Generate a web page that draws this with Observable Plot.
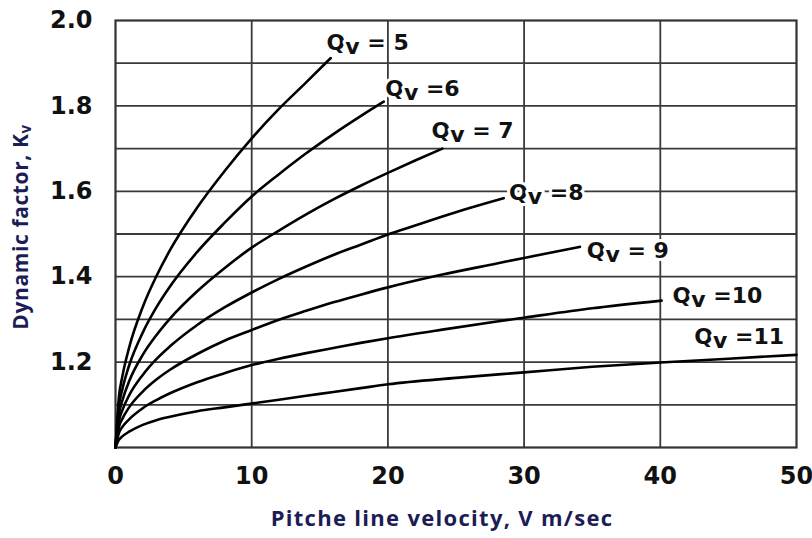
<!DOCTYPE html>
<html>
<head>
<meta charset="utf-8">
<script src="https://cdn.jsdelivr.net/npm/d3@7"></script>
<script src="https://cdn.jsdelivr.net/npm/@observablehq/plot@0.6"></script>
<style>
  html, body { margin: 0; padding: 0; background: #fff; }
  #chart { width: 812px; height: 538px; }
</style>
</head>
<body>
<div id="chart"></div>
<script>
// Transmission accuracy levels (Qv) and the dynamic factor Kv,
// as [pitch line velocity V (m/s), Kv] pairs.
const qualityLevels = [5, 6, 7, 8, 9, 10, 11];

const curveQv5 = [[0, 1], [0.25, 1.118], [0.5, 1.166], [1, 1.234], [2, 1.329], [3, 1.401], [4, 1.462],
  [6, 1.562], [8, 1.647], [10, 1.724], [12, 1.793], [14, 1.855], [15.8, 1.912]];
const curveQv6 = [[0, 1], [0.25, 1.097], [0.5, 1.136], [1, 1.192], [2, 1.269], [3, 1.328], [4, 1.377],
  [6, 1.458], [8, 1.526], [10, 1.588], [12, 1.640], [14, 1.689], [16, 1.734], [18, 1.776], [19.7, 1.81]];
const curveQv7 = [[0, 1], [0.25, 1.078], [0.5, 1.11], [1, 1.155], [2, 1.217], [3, 1.263], [4, 1.302],
  [6, 1.366], [8, 1.42], [10, 1.468], [12, 1.508], [14, 1.546], [16, 1.581], [18, 1.613], [20, 1.643],
  [22, 1.672], [24, 1.70]];
const curveQv8 = [[0, 1], [0.25, 1.062], [0.5, 1.087], [1, 1.122], [2, 1.17], [3, 1.207], [4, 1.237],
  [6, 1.287], [8, 1.328], [10, 1.363], [12, 1.395], [14, 1.424], [16, 1.451], [18, 1.475], [20, 1.499],
  [22, 1.52], [24, 1.541], [26, 1.561], [28.5, 1.584]];
const curveQv9 = [[0, 1], [0.25, 1.048], [0.5, 1.067], [1, 1.094], [2, 1.131], [3, 1.159], [4, 1.182],
  [6, 1.219], [8, 1.25], [10, 1.275], [12, 1.299], [14, 1.32], [16, 1.34], [18, 1.358], [20, 1.375],
  [24, 1.405], [28, 1.431], [30, 1.444], [34.1, 1.47]];
const curveQv10 = [[0, 1], [0.25, 1.034], [0.5, 1.048], [1, 1.066], [2, 1.092], [3, 1.111], [4, 1.127],
  [6, 1.153], [8, 1.174], [10, 1.193], [12, 1.208], [14, 1.221], [16, 1.233], [18, 1.245], [20, 1.256],
  [24, 1.276], [28, 1.295], [30, 1.304], [35, 1.326], [40.1, 1.344]];
const curveQv11 = [[0, 1], [0.25, 1.018], [0.5, 1.026], [1, 1.037], [2, 1.053], [3, 1.064], [4, 1.072],
  [6, 1.085], [8, 1.094], [10, 1.103], [12, 1.112], [14, 1.121], [16, 1.13], [18, 1.139], [20, 1.148],
  [25, 1.163], [30, 1.176], [35, 1.189], [40, 1.199], [45, 1.208], [50, 1.217]];

// Curve labels and the (V, Kv) point where each label begins
const labelTexts = ["Qv = 5", "Qv =6", "Qv = 7", "Qv =8", "Qv = 9", "Qv =10", "Qv =11"];
const labelV = [15.5, 19.8, 23.2, 28.9, 34.6, 40.9, 42.5];
const labelKv = [1.948, 1.839, 1.741, 1.595, 1.461, 1.356, 1.26];

// Axis ticks and grid
const xTicks = [0, 10, 20, 30, 40, 50];
const xGrid = [10, 20, 30, 40];
const yTicks = [1.2, 1.4, 1.6, 1.8, 2.0];
const yGrid = [1.1, 1.2, 1.3, 1.4, 1.5, 1.6, 1.7, 1.8, 1.9];

const xTitle = "Pitche line velocity, V m/sec";
const yTitle = "Dynamic factor, Kv";

const curves = [curveQv5, curveQv6, curveQv7, curveQv8, curveQv9, curveQv10, curveQv11];
const rows = curves.flatMap((pts, i) => pts.map(([v, kv]) => ({qv: qualityLevels[i], v, kv})));
const labels = labelTexts.map((text, i) => ({text, v: labelV[i], kv: labelKv[i]}));

const tickFont = {fontSize: 24, fontWeight: "bold", fill: "#111"};
const titleFont = {fontFamily: "'Open Sans', sans-serif", fontWeight: "bold", fill: "#1c1c56"};

const chart = Plot.plot({
  width: 812,
  height: 538,
  marginLeft: 115,
  marginRight: 16,
  marginTop: 20,
  marginBottom: 91,
  style: {fontFamily: "'DejaVu Sans', sans-serif", background: "#fff"},
  x: {domain: [0, 50]},
  y: {domain: [1, 2]},
  marks: [
    Plot.gridX(xGrid, {stroke: "#3a3a3a", strokeOpacity: 1, strokeWidth: 1.8}),
    Plot.gridY(yGrid, {stroke: "#3a3a3a", strokeOpacity: 1, strokeWidth: 1.8}),
    Plot.frame({stroke: "#333", strokeWidth: 2.2}),
    Plot.axisX(xTicks, {tickSize: 0, tickPadding: 19, label: null, ...tickFont}),
    Plot.axisY(yTicks, {tickSize: 0, tickPadding: 23, label: null, tickFormat: d3.format(".1f"), ...tickFont}),
    Plot.line(rows, {x: "v", y: "kv", z: "qv", curve: "monotone-x", stroke: "#000", strokeWidth: 2.6}),
    Plot.text(labels, {
      x: "v", y: "kv", text: "text", textAnchor: "start",
      fontSize: 22, fontWeight: "bold", fill: "#111",
      stroke: "#fff", strokeWidth: 6, paintOrder: "stroke"
    }),
    Plot.text([xTitle], {
      frameAnchor: "bottom", dx: -14, dy: 78, fontSize: 22, ...titleFont
    }),
    Plot.text([yTitle], {
      frameAnchor: "left", textAnchor: "middle", dx: -94, dy: -7, rotate: -90,
      fontSize: 21, ...titleFont
    })
  ]
});

// Set the "v" of Qv and Kv as a subscript
d3.select(chart).selectAll("text").each(function () {
  const s = this.textContent;
  if (!/(Qv|Kv)/.test(s) || this.childElementCount) return;
  const isLabel = s.startsWith("Qv");
  const i = isLabel ? 1 : s.lastIndexOf("v");
  const sel = d3.select(this);
  sel.text(null);
  sel.append("tspan").text(s.slice(0, i));
  sel.append("tspan").attr("dy", isLabel ? 4 : 3).attr("font-size", isLabel ? "1em" : "0.72em").text("v");
  const rest = s.slice(i + 1);
  if (rest) sel.append("tspan").attr("dy", isLabel ? -4 : -3).text(rest);
});

// Axis titles are set slightly tracked out
d3.select(chart).selectAll("text")
  .filter(function () { return this.textContent === xTitle; })
  .attr("letter-spacing", "1.3px");
d3.select(chart).selectAll("text")
  .filter(function () { return this.textContent === yTitle; })
  .attr("letter-spacing", "0.6px");

document.getElementById("chart").appendChild(chart);
</script>
</body>
</html>
